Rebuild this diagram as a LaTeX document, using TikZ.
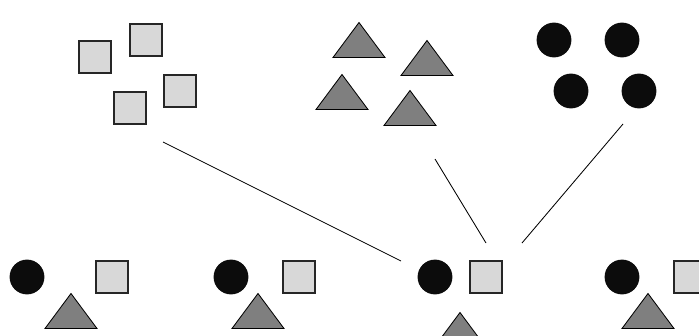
\documentclass[tikz,border=0pt]{standalone}
\usepackage{tikz}

\definecolor{boxgray}{HTML}{D8D8D8}
\definecolor{trigray}{HTML}{7F7F7F}
\definecolor{dotblack}{HTML}{0C0C0C}

\tikzset{
  box/.style={draw=black!85, line width=0.9pt, fill=boxgray, minimum size=0.8cm, inner sep=0pt},
  dot/.style={circle, fill=dotblack, minimum size=0.87cm, inner sep=0pt},
  tri/.pic={\draw[fill=trigray, line width=0.6pt] (-26,17.5) -- (0,-17.5) -- (26,17.5) -- cycle;},
  link/.style={line width=0.6pt}
}

\begin{document}
\begin{tikzpicture}[x=0.025cm,y=-0.025cm]
\useasboundingbox (0,0) rectangle (699,336);
\clip (0,0) rectangle (699,336);
% boxes, top left
\node[box] (boxa) at (95,57) {};
\node[box] (boxb) at (146,40) {};
\node[box] (boxc) at (180,91) {};
\node[box] (boxd) at (130,108) {};
% triangles, top middle
\pic (tria) at (359,40) {tri};
\pic (trib) at (427,58) {tri};
\pic (tric) at (342,92) {tri};
\pic (trid) at (410,108) {tri};
% dots, top right
\node[dot] (dota) at (554,40) {};
\node[dot] (dotb) at (622,40) {};
\node[dot] (dotc) at (571,91) {};
\node[dot] (dotd) at (639,91) {};
% mixed groups, bottom row
\foreach \x/\bx/\tx [count=\i] in {27/112/71, 231/299/258, 622/690/648} {
  \node[dot] (mixdot\i) at (\x,277) {};
  \node[box] (mixbox\i) at (\bx,277) {};
  \pic (mixtri\i) at (\tx,311) {tri};
}
\node[dot] (middot) at (435,277) {};
\node[box] (midbox) at (486,277) {};
\pic (midtri) at (460,330) {tri};
% links
\coordinate (boxout) at (163,142);
\coordinate (triout) at (435,159);
\coordinate (dotout) at (623,124);
\coordinate (midinl) at (401,261);
\coordinate (midinc) at (486,243);
\coordinate (midinr) at (522,243);
\draw[link] (boxout) -- (midinl);
\draw[link] (triout) -- (midinc);
\draw[link] (dotout) -- (midinr);
\end{tikzpicture}
\end{document}
